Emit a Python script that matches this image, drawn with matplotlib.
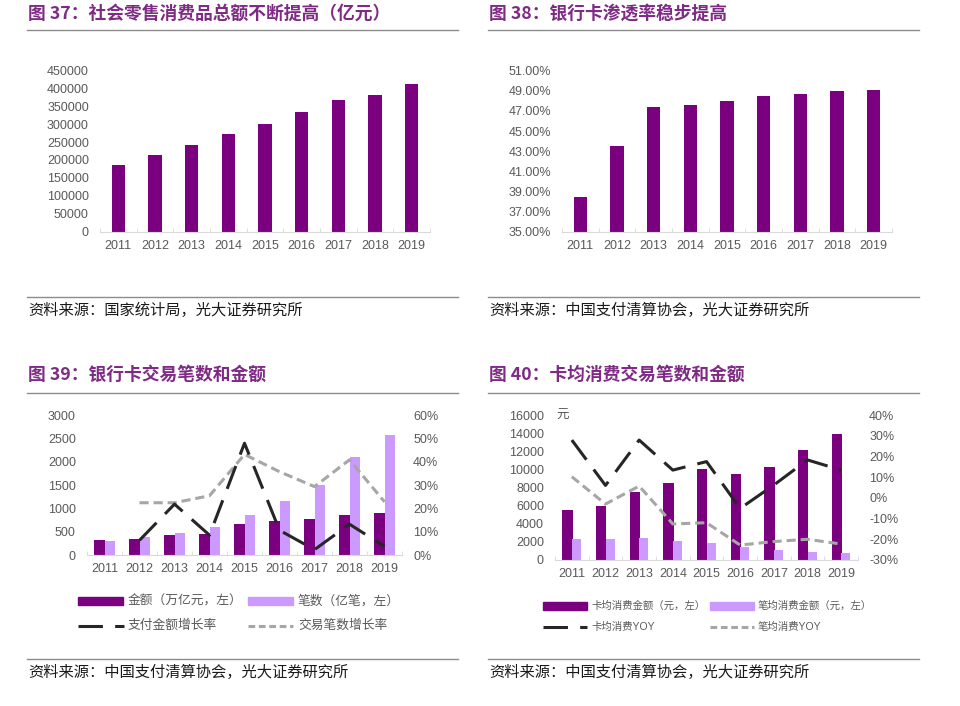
import numpy as np
import matplotlib
matplotlib.use("Agg")
import matplotlib.pyplot as plt
from matplotlib.lines import Line2D
from matplotlib.patches import Rectangle
from matplotlib.ticker import FuncFormatter

plt.rcParams['font.family'] = ['Liberation Sans', 'Noto Sans CJK SC', 'DejaVu Sans']
plt.rcParams['axes.unicode_minus'] = False

years = ['2011', '2012', '2013', '2014', '2015', '2016', '2017', '2018', '2019']

# fig 37: retail sales (亿元)
retail = [187206, 214433, 242843, 271896, 300931, 332316, 366262, 380987, 411649]

# fig 38: bank card penetration (%)
penetration = [38.5, 43.5, 47.4, 47.6, 48.0, 48.5, 48.7, 48.95, 49.05]

# fig 39: bank card transactions
amount = [330, 345, 423, 459, 667, 739, 775, 861, 897]        # 万亿元
count = [309, 380, 474, 596, 861, 1163, 1493, 2096, 2577]      # 亿笔
amount_growth = [np.nan, 6.3, 21.8, 8.5, 47.9, 10.6, 2.3, 13.2, 3.7]
count_growth = [np.nan, 22.4, 22.4, 25.4, 43.1, 35.7, 29.3, 40.8, 22.8]

# fig 40: per-card consumption
per_card = [5517, 5922, 7540, 8533, 10078, 9526, 10262, 12175, 13867]
per_txn = [2354, 2280, 2464, 2097, 1839, 1434, 1067, 920, 736]
per_card_yoy = [27.9, 6.0, 27.9, 13.4, 17.5, -5.1, 6.2, 18.3, 13.4]
per_txn_yoy = [10.2, -3.0, 5.7, -12.6, -12.0, -22.8, -21.1, -20.0, -22.3]

W, H = 960, 706
DARK = '#7B007F'
LIGHT = '#CC99FF'
TITLE_C = '#7F2B85'
TXT = '#595959'
RULE = '#8C8C8C'
CJK = ['Noto Sans CJK SC', 'DejaVu Sans']

fig = plt.figure(figsize=(W / 100, H / 100), dpi=100)


def fx(x):
    return x / W


def fy(y):
    return 1 - y / H


def px_axes(x0, x1, ybot, ytop):
    return fig.add_axes([fx(x0), fy(ybot), fx(x1 - x0), (ybot - ytop) / H])


def hline(x0, x1, y, color=RULE, lw=1.0):
    fig.add_artist(Line2D([fx(x0), fx(x1)], [fy(y), fy(y)], color=color, lw=lw))


def frame(x0, x1, ytitle, yrule, ybottom, ysrc, title, source):
    fig.text(fx(x0 + 1), fy(ytitle), title, fontsize=12.8, color=TITLE_C,
             fontweight='bold', va='center', ha='left', family=CJK)
    hline(x0, x1, yrule)
    hline(x0, x1, ybottom)
    fig.text(fx(x0 + 1), fy(ysrc), source, fontsize=11, color='#1A1A1A',
             va='center', ha='left', family=CJK)


def style_axes(ax, fs=9):
    for s in ['top', 'left', 'right']:
        ax.spines[s].set_visible(False)
    ax.spines['bottom'].set_color('#D9D9D9')
    ax.set_xlim(-0.5, len(years) - 0.5)
    ax.set_xticks(range(len(years)))
    ax.set_xticklabels(years)
    ax.set_xticks(np.arange(-0.5, len(years), 1.0), minor=True)
    ax.tick_params(axis='x', which='major', length=0, pad=6, labelsize=fs, labelcolor=TXT)
    ax.tick_params(axis='x', which='minor', length=3, direction='in', color='#D9D9D9')
    ax.tick_params(axis='y', length=0, pad=8, labelsize=fs, labelcolor=TXT)
    ax.patch.set_alpha(0)


def style_right(ax2, fs=9):
    for s in ['top', 'left', 'right', 'bottom']:
        ax2.spines[s].set_visible(False)
    ax2.tick_params(axis='y', length=0, pad=8, labelsize=fs, labelcolor=TXT)


x = np.arange(len(years))

# ---- panel 37
frame(27, 458, 14, 30, 297, 310,
      '图 37：社会零售消费品总额不断提高（亿元）', '资料来源：国家统计局，光大证券研究所')
ax1 = px_axes(100, 430, 232, 70)
ax1.bar(x, retail, width=0.36, color=DARK)
ax1.set_ylim(0, 450000)
ax1.set_yticks(range(0, 450001, 50000))
style_axes(ax1)

# ---- panel 38
frame(488, 919, 14, 30, 297, 310,
      '图 38：银行卡渗透率稳步提高', '资料来源：中国支付清算协会，光大证券研究所')
ax2 = px_axes(562, 892, 232, 70.5)
ax2.bar(x, penetration, width=0.36, color=DARK)
ax2.set_ylim(35, 51)
ax2.set_yticks(range(35, 52, 2))
ax2.yaxis.set_major_formatter(FuncFormatter(lambda v, p: f'{v:.2f}%'))
style_axes(ax2)

# ---- panel 39
frame(27, 458, 375, 393, 659, 672,
      '图 39：银行卡交易笔数和金额', '资料来源：中国支付清算协会，光大证券研究所')
ax3 = px_axes(87, 402, 555, 415)
ax3.bar(x - 0.15, amount, width=0.3, color=DARK)
ax3.bar(x + 0.15, count, width=0.3, color=LIGHT)
ax3.set_ylim(0, 3000)
ax3.set_yticks(range(0, 3001, 500))
style_axes(ax3)
ax3r = ax3.twinx()
ax3r.plot(x, count_growth, color='#A6A6A6', lw=2.2, dashes=(3, 1.6))
ax3r.plot(x, amount_growth, color='#262626', lw=2.2, dashes=(8, 4))
ax3r.set_ylim(0, 60)
ax3r.set_yticks(range(0, 61, 10))
ax3r.yaxis.set_major_formatter(FuncFormatter(lambda v, p: f'{v:.0f}%'))
style_right(ax3r)

# legend 39
fig.add_artist(Rectangle((fx(78), fy(605)), fx(45), 8 / H, color=DARK))
fig.add_artist(Rectangle((fx(248), fy(605)), fx(45), 8 / H, color=LIGHT))
fig.add_artist(Line2D([fx(78), fx(124)], [fy(626), fy(626)], color='#262626', lw=2.2, dashes=(8, 4)))
fig.add_artist(Line2D([fx(248), fx(293)], [fy(626), fy(626)], color='#A6A6A6', lw=2.2, dashes=(2.2, 1.2)))
for lx, ly, lt in [(128, 601, '金额（万亿元，左）'), (298, 601, '笔数（亿笔，左）'),
                   (128, 626, '支付金额增长率'), (298, 626, '交易笔数增长率')]:
    fig.text(fx(lx), fy(ly), lt, fontsize=9.2, color=TXT, va='center', ha='left')

# ---- panel 40
frame(488, 919, 375, 393, 659, 672,
      '图 40：卡均消费交易笔数和金额', '资料来源：中国支付清算协会，光大证券研究所')
ax4 = px_axes(555, 858, 560, 415)
ax4.bar(x - 0.13, per_card, width=0.3, color=DARK)
ax4.bar(x + 0.14, per_txn, width=0.27, color=LIGHT)
ax4.set_ylim(0, 16000)
ax4.set_yticks(range(0, 16001, 2000))
style_axes(ax4)
ax4r = ax4.twinx()
ax4r.plot(x, per_txn_yoy, color='#A6A6A6', lw=2.2, dashes=(3, 1.6))
ax4r.plot(x, per_card_yoy, color='#262626', lw=2.2, dashes=(8, 4))
ax4r.set_ylim(-30, 40)
ax4r.set_yticks(range(-30, 41, 10))
ax4r.yaxis.set_major_formatter(FuncFormatter(lambda v, p: f'{v:.0f}%'))
style_right(ax4r)
fig.text(fx(563), fy(415), '元', fontsize=9, color=TXT, va='center', ha='center', family=CJK)

# legend 40
fig.add_artist(Rectangle((fx(543), fy(610)), fx(44), 8 / H, color=DARK))
fig.add_artist(Rectangle((fx(710), fy(610)), fx(44), 8 / H, color=LIGHT))
fig.add_artist(Line2D([fx(543), fx(587)], [fy(627), fy(627)], color='#262626', lw=2.2, dashes=(8, 4)))
fig.add_artist(Line2D([fx(710), fx(754)], [fy(627), fy(627)], color='#A6A6A6', lw=2.2, dashes=(2.2, 1.2)))
for lx, ly, lt in [(591, 606, '卡均消费金额（元，左）'), (758, 606, '笔均消费金额（元，左）'),
                   (591, 627, '卡均消费YOY'), (758, 627, '笔均消费YOY')]:
    fig.text(fx(lx), fy(ly), lt, fontsize=7.5, color=TXT, va='center', ha='left')

fig.savefig('out.png', dpi=100)
